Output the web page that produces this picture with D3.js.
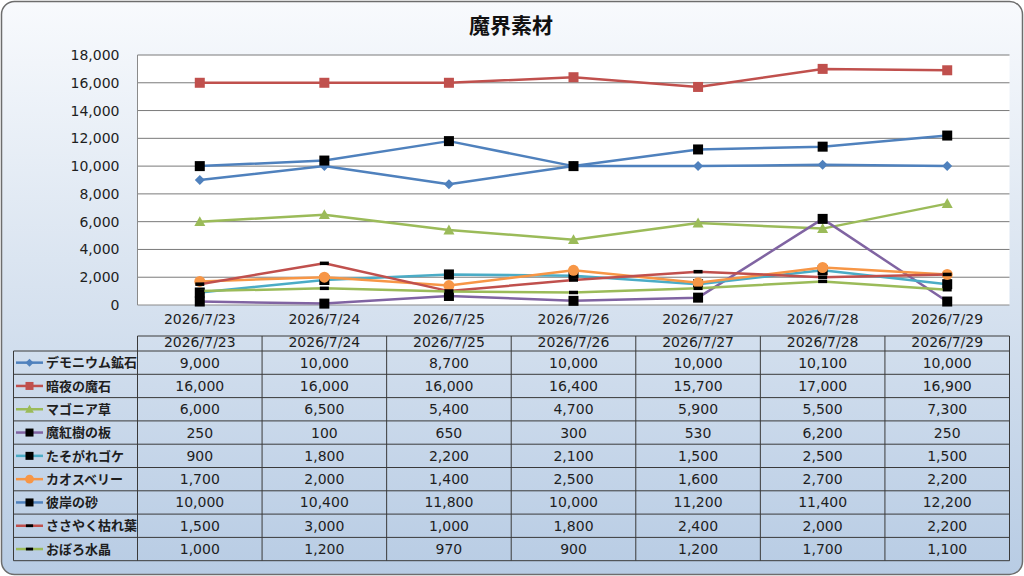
<!DOCTYPE html>
<html>
<head>
<meta charset="utf-8">
<script src="https://cdn.jsdelivr.net/npm/d3@7"></script>
<style>
  html, body { margin: 0; padding: 0; background: #ffffff; }
  svg { display: block; }
</style>
</head>
<body>
<svg id="chart" width="1024" height="576" viewBox="0 0 1024 576"></svg>
<script>
// --- Data ---
const chartTitle = "魔界素材";
const categories = ["2026/7/23", "2026/7/24", "2026/7/25", "2026/7/26", "2026/7/27", "2026/7/28", "2026/7/29"];
const seriesNames = ["デモニウム鉱石", "暗夜の魔石", "マゴニア草", "魔紅樹の板", "たそがれゴケ", "カオスベリー", "彼岸の砂", "ささやく枯れ葉", "おぼろ水晶"];
const demonium = [9000, 10000, 8700, 10000, 10000, 10100, 10000];
const anyaStone = [16000, 16000, 16000, 16400, 15700, 17000, 16900];
const magonia = [6000, 6500, 5400, 4700, 5900, 5500, 7300];
const makoujuBoard = [250, 100, 650, 300, 530, 6200, 250];
const tasogareMoss = [900, 1800, 2200, 2100, 1500, 2500, 1500];
const chaosBerry = [1700, 2000, 1400, 2500, 1600, 2700, 2200];
const higanSand = [10000, 10400, 11800, 10000, 11200, 11400, 12200];
const whisperLeaf = [1500, 3000, 1000, 1800, 2400, 2000, 2200];
const oboroCrystal = [1000, 1200, 970, 900, 1200, 1700, 1100];
const seriesValues = [demonium, anyaStone, magonia, makoujuBoard, tasogareMoss, chaosBerry, higanSand, whisperLeaf, oboroCrystal];
const yTicks = [0, 2000, 4000, 6000, 8000, 10000, 12000, 14000, 16000, 18000];

// --- Styles ---
const lineColors = ["#4F81BD", "#C0504D", "#9BBB59", "#8064A2", "#4BACC6", "#F79646", "#4F81BD", "#C0504D", "#9BBB59"];
const markerTypes = ["diamond", "square", "triangle", "square", "square", "circle", "square", "dash", "dash"];
const markerFills = ["#4F81BD", "#C0504D", "#9BBB59", "#000", "#000", "#F79646", "#000", "#000", "#000"];
const numFont = "'DejaVu Sans', 'Noto Sans CJK JP', sans-serif";
const jpFont = "'Noto Sans CJK JP', sans-serif";
const textColor = "#1e1e1e";

const svg = d3.select("#chart");
const W = 1024, H = 576;
const plot = { left: 137.5, right: 1009.5, top: 55, bottom: 305 };
const table = { top: 336, headerBottom: 351, rowH: 23.3, labelLeft: 13.5 };

// --- Defs ---
const defs = svg.append("defs");
const grad = defs.append("linearGradient")
  .attr("id", "bgGrad")
  .attr("x1", 0).attr("y1", 0).attr("x2", 0).attr("y2", 1);
grad.append("stop").attr("offset", "0%").attr("stop-color", "#f8fafd");
grad.append("stop").attr("offset", "45%").attr("stop-color", "#dbe5f1");
grad.append("stop").attr("offset", "100%").attr("stop-color", "#b8cce4");

// Background panel
svg.append("rect")
  .attr("x", 1.5).attr("y", 1.5)
  .attr("width", W - 3).attr("height", H - 3)
  .attr("rx", 13).attr("ry", 13)
  .style("fill", "url(#bgGrad)")
  .style("stroke", "#6d6d6d")
  .style("stroke-width", 1.5);

// Title
svg.append("text")
  .attr("x", 511).attr("y", 33)
  .attr("text-anchor", "middle")
  .style("font-family", jpFont)
  .style("font-size", "21px")
  .style("font-weight", "bold")
  .style("fill", "#111")
  .text(chartTitle);

// --- Scales ---
const x = d3.scaleBand()
  .domain(categories)
  .range([plot.left, plot.right]);
const y = d3.scaleLinear()
  .domain([0, 18000])
  .range([plot.bottom, plot.top]);

// Plot area
svg.append("rect")
  .attr("x", plot.left).attr("y", plot.top)
  .attr("width", plot.right - plot.left).attr("height", plot.bottom - plot.top)
  .style("fill", "#ffffff");

// Gridlines
svg.append("g")
  .selectAll("line")
  .data(yTicks)
  .join("line")
  .attr("x1", plot.left).attr("x2", plot.right)
  .attr("y1", d => y(d)).attr("y2", d => y(d))
  .style("stroke", d => d === 0 ? "#8a8a8a" : "#7a7a7a")
  .style("stroke-width", 1);

// Left axis line
svg.append("line")
  .attr("x1", plot.left).attr("x2", plot.left)
  .attr("y1", plot.top).attr("y2", plot.bottom)
  .style("stroke", "#8a8a8a");

// Y axis labels
const yAxis = svg.append("g")
  .attr("transform", `translate(${plot.left - 15},0)`)
  .call(d3.axisLeft(y).tickValues(yTicks).tickFormat(d3.format(",")).tickSize(0));
yAxis.select(".domain").remove();
yAxis.selectAll("text")
  .style("font-family", numFont)
  .style("font-size", "14px")
  .style("fill", textColor);

// X axis labels
const xAxis = svg.append("g")
  .attr("transform", `translate(0,${plot.bottom + 6})`)
  .call(d3.axisBottom(x).tickSize(0));
xAxis.select(".domain").remove();
xAxis.selectAll("text")
  .style("font-family", numFont)
  .style("font-size", "14px")
  .style("fill", textColor);

// --- Marker helper ---
function drawMarker(g, type, cx, cy, fill, scale) {
  const s = scale || 1;
  if (type === "square") {
    const a = 10 * s;
    g.append("rect")
      .attr("x", cx - a / 2).attr("y", cy - a / 2)
      .attr("width", a).attr("height", a)
      .style("fill", fill);
  } else if (type === "diamond") {
    const r = 5 * s;
    g.append("path")
      .attr("d", `M${cx},${cy - r}L${cx + r},${cy}L${cx},${cy + r}L${cx - r},${cy}Z`)
      .style("fill", fill);
  } else if (type === "triangle") {
    const r = 5.5 * s;
    g.append("path")
      .attr("d", `M${cx},${cy - r}L${cx + r},${cy + r * 0.8}L${cx - r},${cy + r * 0.8}Z`)
      .style("fill", fill);
  } else if (type === "circle") {
    g.append("circle")
      .attr("cx", cx).attr("cy", cy).attr("r", 5.5 * s)
      .style("fill", fill);
  } else if (type === "dash") {
    g.append("rect")
      .attr("x", cx - 4.5 * s).attr("y", cy - 1.75 * s)
      .attr("width", 9 * s).attr("height", 3.5 * s)
      .style("fill", fill);
  }
}

// --- Series lines + markers ---
const line = d3.line()
  .x((d, i) => x(categories[i]) + x.bandwidth() / 2)
  .y(d => y(d));

seriesValues.forEach((vals, si) => {
  const g = svg.append("g").attr("class", "series");
  g.append("path")
    .datum(vals)
    .attr("d", line)
    .style("fill", "none")
    .style("stroke", lineColors[si])
    .style("stroke-width", 2.5)
    .style("stroke-linejoin", "round");
  vals.forEach((v, i) => {
    drawMarker(g, markerTypes[si], x(categories[i]) + x.bandwidth() / 2, y(v), markerFills[si]);
  });
});

// --- Data table ---
const tableG = svg.append("g").attr("class", "data-table");
const tableBottom = table.headerBottom + seriesNames.length * table.rowH;
const borderStyle = { stroke: "#3a3a3a", width: 1 };

// header row top border
tableG.append("line")
  .attr("x1", plot.left).attr("x2", plot.right)
  .attr("y1", table.top).attr("y2", table.top)
  .style("stroke", borderStyle.stroke).style("stroke-width", borderStyle.width);

// horizontal row lines
d3.range(seriesNames.length + 1).forEach(i => {
  const yy = table.headerBottom + i * table.rowH;
  tableG.append("line")
    .attr("x1", table.labelLeft).attr("x2", plot.right)
    .attr("y1", yy).attr("y2", yy)
    .style("stroke", borderStyle.stroke).style("stroke-width", borderStyle.width);
});

// vertical lines
tableG.append("line")
  .attr("x1", table.labelLeft).attr("x2", table.labelLeft)
  .attr("y1", table.headerBottom).attr("y2", tableBottom)
  .style("stroke", borderStyle.stroke).style("stroke-width", borderStyle.width);
categories.concat(["end"]).forEach((c, i) => {
  const xx = plot.left + i * x.bandwidth();
  tableG.append("line")
    .attr("x1", xx).attr("x2", xx)
    .attr("y1", table.top).attr("y2", tableBottom)
    .style("stroke", borderStyle.stroke).style("stroke-width", borderStyle.width);
});

// header texts
tableG.selectAll(".hdr")
  .data(categories)
  .join("text")
  .attr("class", "hdr")
  .attr("x", d => x(d) + x.bandwidth() / 2)
  .attr("y", table.top + 11)
  .attr("text-anchor", "middle")
  .style("font-family", numFont)
  .style("font-size", "14px")
  .style("fill", textColor)
  .text(d => d);

// rows
const fmt = d3.format(",");
seriesNames.forEach((name, si) => {
  const cy = table.headerBottom + si * table.rowH + table.rowH / 2;
  // legend key
  tableG.append("line")
    .attr("x1", 16).attr("x2", 43)
    .attr("y1", cy).attr("y2", cy)
    .style("stroke", lineColors[si])
    .style("stroke-width", 2.5);
  drawMarker(tableG, markerTypes[si], 29.5, cy, markerFills[si], 0.8);
  tableG.append("text")
    .attr("x", 46).attr("y", cy)
    .attr("dy", "0.36em")
    .style("font-family", jpFont)
    .style("font-size", "13px")
    .style("font-weight", "bold")
    .style("fill", textColor)
    .text(name);
  seriesValues[si].forEach((v, i) => {
    tableG.append("text")
      .attr("x", x(categories[i]) + x.bandwidth() / 2)
      .attr("y", cy)
      .attr("dy", "0.36em")
      .attr("text-anchor", "middle")
      .style("font-family", numFont)
      .style("font-size", "14px")
      .style("fill", textColor)
      .text(fmt(v));
  });
});
</script>
</body>
</html>
